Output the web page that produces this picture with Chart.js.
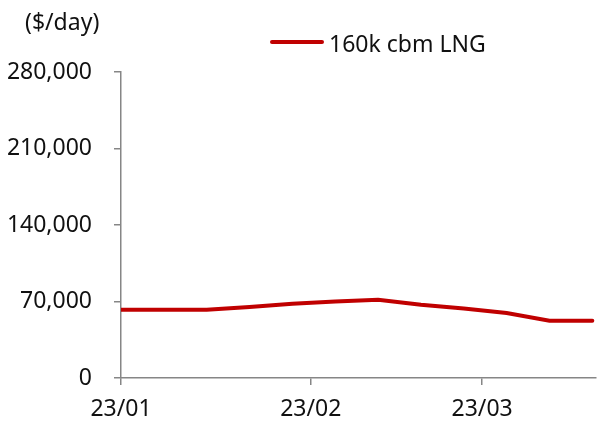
<!DOCTYPE html>
<html>
<head>
<meta charset="utf-8">
<script src="https://cdn.jsdelivr.net/npm/chart.js@4"></script>
<style>
  html, body { margin: 0; padding: 0; background: #fff; }
  #wrap { width: 600px; height: 425px; position: relative; }
</style>
</head>
<body>
<div id="wrap"><canvas id="rateChart"></canvas></div>
<script>
// weekly spot rate, days counted from 23/01/01
const days = [0, 7, 14, 21, 28, 35, 42, 49, 56, 63, 70, 77];
const lngRate = [62400, 62400, 62400, 65000, 68000, 70000, 71500, 67000, 63500, 59500, 52500, 52500];
const monthTicks = [0, 31, 59];
const monthLabels = ['23/01', '23/02', '23/03'];
const yTicks = [0, 70000, 140000, 210000, 280000];
const seriesName = '160k cbm LNG';
const unitLabel = '($/day)';

const FONT = '"Noto Sans", sans-serif';
const AXIS = '#868686';
const RED = '#C00000';

const overlay = {
    id: 'overlay',
    afterDraw(chart) {
        const ctx = chart.ctx;
        ctx.save();
        ctx.fillStyle = '#111';
        ctx.font = '23px ' + FONT;
        ctx.textBaseline = 'middle';
        ctx.textAlign = 'left';
        ctx.fillText(unitLabel, 25, 23);
        // legend
        ctx.strokeStyle = RED;
        ctx.lineWidth = 4;
        ctx.lineCap = 'round';
        ctx.beginPath();
        ctx.moveTo(272, 42);
        ctx.lineTo(322, 42);
        ctx.stroke();
        ctx.fillText(seriesName, 329, 45);
        ctx.restore();
    }
};

new Chart(document.getElementById('rateChart'), {
    type: 'line',
    data: {
        datasets: [{
            label: seriesName,
            data: days.map((d, i) => ({ x: d, y: lngRate[i] })),
            borderColor: RED,
            borderWidth: 4,
            pointRadius: 0,
            tension: 0,
            borderCapStyle: 'round'
        }]
    },
    options: {
        responsive: true,
        maintainAspectRatio: false,
        animation: false,
        layout: { padding: { left: 0, right: 4, top: 72, bottom: 0 } },
        plugins: {
            legend: { display: false },
            tooltip: { enabled: false }
        },
        scales: {
            x: {
                type: 'linear',
                min: 0,
                max: 77.6,
                afterBuildTicks: (scale) => { scale.ticks = monthTicks.map(v => ({ value: v })); },
                afterFit: (scale) => { scale.height = 47; },
                grid: { drawOnChartArea: false, color: AXIS, tickLength: 7, lineWidth: 1.5 },
                border: { color: AXIS, width: 1.5 },
                ticks: {
                    padding: 11,
                    maxRotation: 0,
                    color: '#111',
                    font: { family: FONT, size: 23 },
                    callback: (v) => monthLabels[monthTicks.indexOf(v)]
                }
            },
            y: {
                min: 0,
                max: 280000,
                afterBuildTicks: (scale) => { scale.ticks = yTicks.map(v => ({ value: v })); },
                afterFit: (scale) => { scale.width = 121; },
                grid: { drawOnChartArea: false, color: AXIS, tickLength: 7, lineWidth: 1.5 },
                border: { color: AXIS, width: 1.5 },
                ticks: {
                    padding: 22,
                    color: '#111',
                    font: { family: FONT, size: 23 },
                    callback: (v) => v.toLocaleString('en-US')
                }
            }
        }
    },
    plugins: [overlay]
});
</script>
</body>
</html>
